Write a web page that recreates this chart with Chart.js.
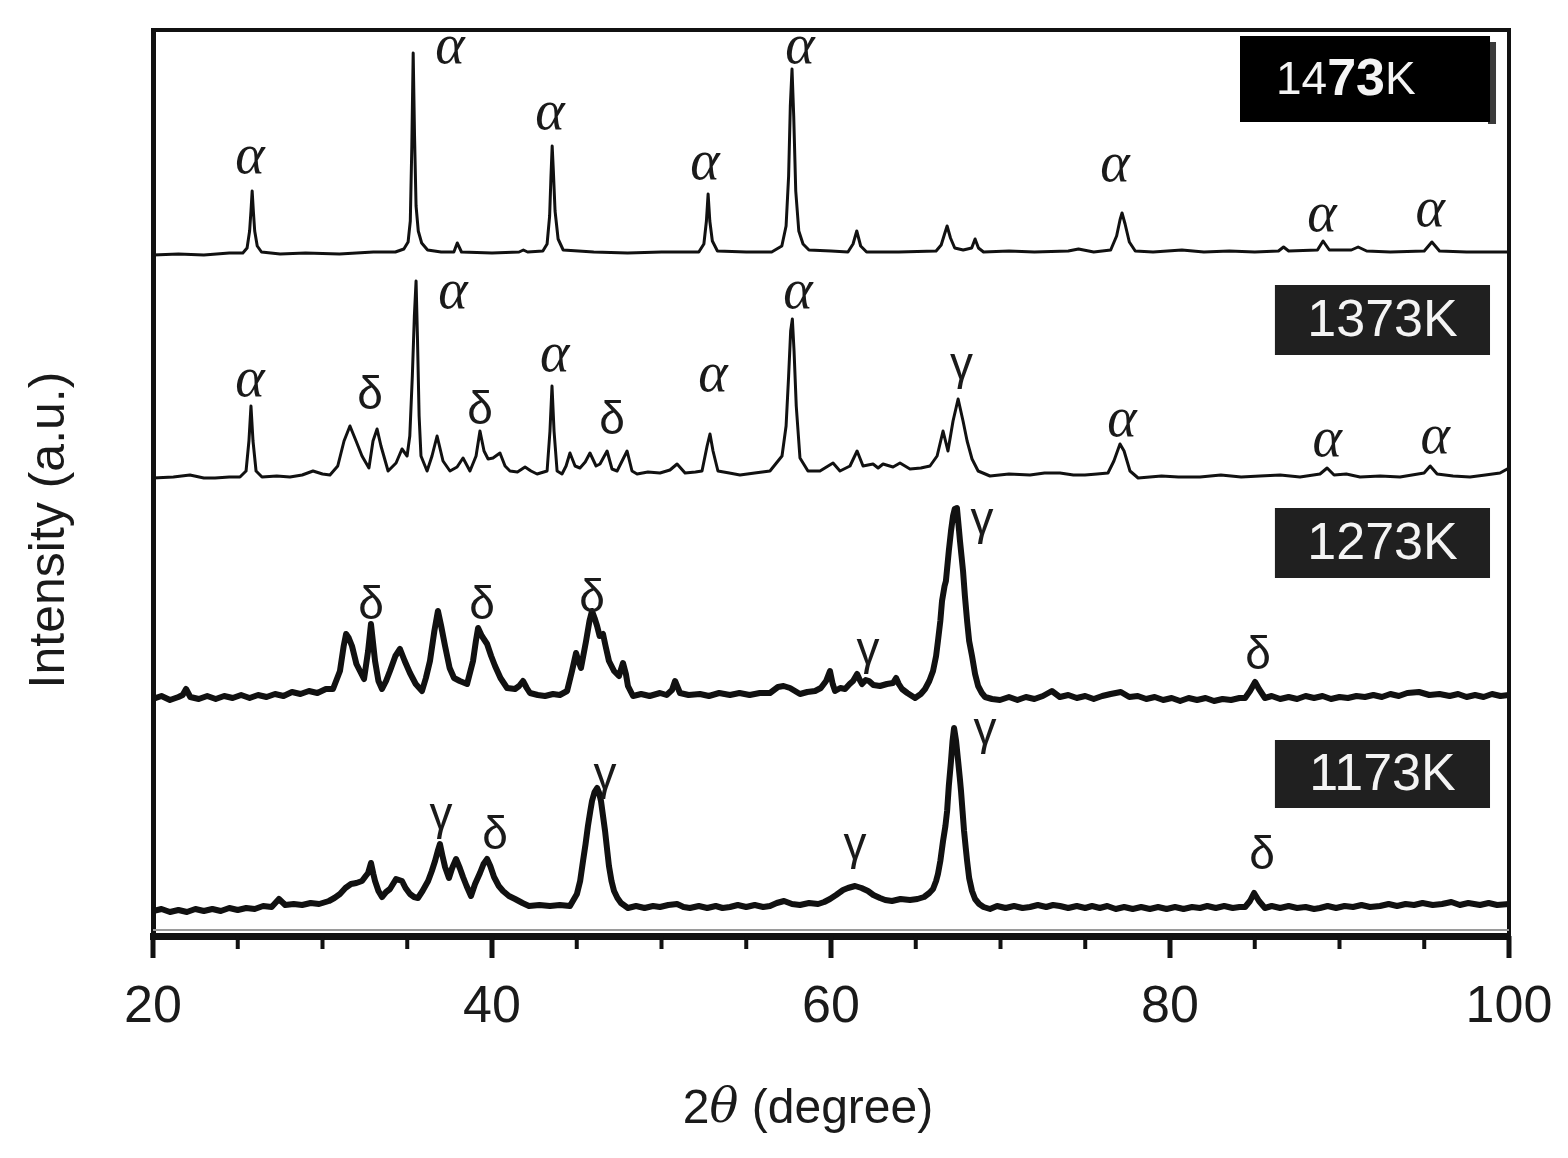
<!DOCTYPE html>
<html>
<head>
<meta charset="utf-8">
<script src="https://cdn.jsdelivr.net/npm/chart.js@4.4.1/dist/chart.umd.min.js"></script>
<style>
  html, body { margin: 0; padding: 0; background: #fff; }
</style>
</head>
<body>
<canvas id="xrd" width="1568" height="1158"></canvas>
<script>
// [2θ (degree), intensity (a.u., each pattern offset as plotted)]
const pattern1473 = [[20.0,681],[21.5,682],[23.0,681],[24.5,683],[25.3,683],[25.55,688],[25.7,705],[25.78,725],[25.85,745],[25.92,725],
  [26.0,705],[26.15,690],[26.4,684],[27.5,682],[29.0,683],[31.0,682],[33.0,684],[34.3,684],[34.8,687],[35.05,694],
  [35.18,715],[35.27,790],[35.35,883],[35.43,800],[35.52,730],[35.65,705],[35.85,693],[36.2,686],[37.0,684],[37.75,684],
  [37.95,693],[38.2,684],[40.0,683],[41.6,684],[41.85,686],[42.1,684],[43.0,685],[43.25,692],[43.4,720],[43.48,760],
  [43.55,790],[43.62,765],[43.72,725],[43.9,697],[44.2,686],[46.0,684],[48.0,683],[50.0,684],[52.2,684],[52.5,692],
  [52.65,715],[52.75,742],[52.85,715],[53.0,695],[53.3,685],[55.0,684],[56.5,684],[57.1,690],[57.35,710],[57.5,760],
  [57.6,830],[57.7,867],[57.8,820],[57.92,745],[58.1,705],[58.35,692],[58.7,686],[60.0,685],[61.0,684],[61.3,692],
  [61.52,705],[61.75,690],[62.1,684],[64.0,684],[66.2,685],[66.5,691],[66.7,702],[66.85,710],[67.05,698],[67.3,688],
  [67.8,686],[68.3,688],[68.5,697],[68.7,688],[69.0,684],[70.5,685],[72.0,684],[74.0,685],[74.6,687],[75.5,684],
  [76.5,686],[76.85,700],[77.05,716],[77.17,723],[77.35,712],[77.6,694],[77.95,685],[79.0,684],[80.7,686],[82.0,684],
  [83.5,685],[85.0,684],[86.4,685],[86.7,689],[87.0,685],[88.7,686],[89.03,695],[89.4,686],[90.7,686],[91.1,689],
  [91.6,685],[93.0,684],[95.0,685],[95.45,694],[95.9,685],[97.5,684],[100.0,684]];

const pattern1373 = [[20.0,458],[21.2,459],[22.18,461],[23.0,458],[23.66,458],[24.5,459],[25.13,459],[25.49,465],[25.66,495],[25.78,530],
  [25.9,495],[26.08,465],[26.43,459],[27.3,460],[28.08,459],[28.8,461],[29.44,465],[30.0,462],[30.44,461],[30.9,470],
  [31.27,495],[31.62,510],[31.98,495],[32.33,480],[32.74,468],[32.98,495],[33.22,507],[33.45,490],[33.87,465],[34.34,473],
  [34.69,487],[34.99,480],[35.15,500],[35.3,560],[35.42,620],[35.52,655],[35.6,600],[35.7,520],[35.81,480],[36.17,465],
  [36.46,480],[36.76,500],[37.11,475],[37.52,465],[37.94,469],[38.29,478],[38.7,465],[39.06,480],[39.29,505],[39.53,485],
  [39.77,477],[40.06,478],[40.47,483],[40.77,470],[41.06,465],[41.5,464],[41.95,469],[42.3,465],[42.66,462],[43.25,465],
  [43.42,505],[43.54,550],[43.66,505],[43.84,465],[44.13,462],[44.37,470],[44.6,483],[44.9,470],[45.19,468],[45.5,474],
  [45.78,483],[46.14,470],[46.37,472],[46.79,485],[47.08,467],[47.38,465],[47.97,485],[48.26,465],[48.56,462],[49.2,464],
  [49.91,463],[50.5,466],[50.92,472],[51.39,463],[52.0,464],[52.39,465],[52.69,490],[52.86,502],[53.04,485],[53.33,465],
  [54.0,463],[54.63,461],[55.5,463],[56.4,465],[57.11,480],[57.35,510],[57.5,560],[57.62,605],[57.72,617],[57.82,585],
  [57.95,530],[58.17,478],[58.64,465],[59.35,465],[60.12,473],[60.53,465],[61.12,470],[61.54,485],[61.89,470],[62.48,472],
  [62.78,468],[63.07,472],[63.66,469],[64.07,473],[64.66,467],[65.3,468],[65.84,470],[66.26,480],[66.61,505],[66.9,485],
  [67.2,515],[67.5,537],[67.79,515],[68.03,495],[68.32,477],[68.68,465],[69.38,460],[70.5,462],[71.74,461],[72.6,463],
  [73.51,463],[74.3,461],[74.98,461],[75.7,462],[76.34,463],[76.69,475],[77.05,492],[77.29,485],[77.64,465],[78.12,458],
  [79.5,460],[80.5,459],[81.77,459],[83.0,461],[84.2,459],[85.31,460],[86.5,461],[87.67,459],[88.85,462],[89.27,468],
  [89.68,461],[90.4,462],[91.21,459],[92.4,460],[93.57,459],[94.99,463],[95.35,470],[95.76,462],[96.7,460],[97.7,459],
  [98.6,461],[99.47,463],[100.0,468]];

const pattern1273 = [[20.0,237],[20.5,240],[21.0,236],[21.5,239],[21.75,241],[21.95,247],[22.2,239],[22.7,237],[23.2,240],[23.7,237],
  [24.2,240],[24.7,238],[25.2,241],[25.7,238],[26.2,241],[26.7,239],[27.2,242],[27.7,240],[28.2,244],[28.7,242],
  [29.2,245],[29.7,243],[30.2,247],[30.62,247],[31.03,265],[31.25,290],[31.39,302],[31.55,298],[31.74,290],[32.0,272],
  [32.21,265],[32.45,257],[32.69,285],[32.86,312],[33.1,275],[33.3,255],[33.51,247],[33.75,255],[33.98,265],[34.3,280],
  [34.57,287],[34.85,275],[35.16,263],[35.5,252],[35.87,245],[36.1,258],[36.34,275],[36.6,305],[36.81,325],[37.0,310],
  [37.23,290],[37.5,268],[37.76,258],[38.1,255],[38.53,252],[38.88,275],[39.05,295],[39.18,308],[39.4,300],[39.71,292],
  [39.95,280],[40.18,270],[40.5,258],[40.89,248],[41.36,247],[41.6,250],[41.83,255],[42.05,248],[42.24,243],[42.7,241],
  [43.13,240],[43.6,242],[44.0,241],[44.43,245],[44.72,265],[44.96,283],[45.1,275],[45.25,268],[45.55,295],[45.75,315],
  [45.9,325],[46.05,318],[46.2,310],[46.35,300],[46.55,302],[46.7,290],[46.9,275],[47.2,265],[47.49,260],[47.73,273],
  [47.9,262],[48.02,250],[48.32,240],[48.8,242],[49.3,240],[49.91,243],[50.3,241],[50.62,246],[50.8,255],[51.09,243],
  [51.6,241],[52.27,242],[52.8,240],[53.4,243],[54.04,241],[54.6,243],[55.2,241],[55.8,243],[56.4,243],[56.87,249],
  [57.2,250],[57.58,248],[58.17,242],[58.6,244],[59.06,245],[59.4,248],[59.71,255],[59.94,265],[60.1,252],[60.24,245],
  [60.55,248],[60.83,247],[61.1,252],[61.3,255],[61.54,262],[61.7,256],[61.83,252],[62.05,256],[62.24,255],[62.5,251],
  [62.89,250],[63.3,252],[63.66,253],[63.84,258],[64.0,252],[64.19,247],[64.5,243],[64.96,238],[65.3,242],[65.55,247],
  [65.8,255],[66.02,265],[66.2,280],[66.31,295],[66.45,315],[66.55,335],[66.7,350],[66.78,355],[66.95,385],[67.08,405],
  [67.2,420],[67.3,427],[67.43,428],[67.53,410],[67.61,395],[67.7,380],[67.79,365],[67.9,340],[68.03,315],[68.15,295],
  [68.32,280],[68.5,262],[68.68,250],[68.9,243],[69.09,239],[69.5,237],[69.97,236],[70.5,239],[71.0,236],[71.5,239],
  [72.0,237],[72.5,240],[73.03,245],[73.5,239],[74.0,241],[74.5,238],[75.0,240],[75.5,237],[76.0,240],[76.5,242],
  [77.1,244],[77.6,239],[78.1,240],[78.6,237],[79.1,239],[79.6,236],[80.1,238],[80.6,235],[81.1,238],[81.6,236],
  [82.1,238],[82.6,235],[83.1,237],[83.6,236],[84.1,238],[84.43,238],[84.72,245],[85.02,254],[85.25,247],[85.6,238],
  [86.0,240],[86.5,237],[87.0,239],[87.5,237],[88.0,240],[88.5,238],[89.0,240],[89.5,237],[90.0,239],[90.5,238],
  [91.0,240],[91.5,239],[92.0,241],[92.5,239],[93.0,242],[93.5,240],[94.0,243],[94.69,244],[95.3,241],[95.9,242],
  [96.5,240],[97.0,242],[97.5,239],[98.0,241],[98.5,239],[99.0,242],[99.5,240],[100.0,241]];

const pattern1173 = [[20.0,25],[20.5,27],[21.0,24],[21.5,26],[22.0,24],[22.5,27],[23.0,25],[23.5,27],[24.0,25],[24.5,28],
  [25.0,26],[25.5,28],[26.0,27],[26.5,30],[27.0,29],[27.43,37],[27.8,31],[28.3,32],[28.8,31],[29.3,33],
  [29.8,32],[30.38,35],[30.7,38],[31.03,42],[31.35,48],[31.68,52],[32.0,53],[32.33,55],[32.55,60],[32.69,63],
  [32.86,73],[33.0,62],[33.1,55],[33.3,45],[33.51,39],[33.75,44],[33.98,47],[34.34,57],[34.69,55],[34.9,48],
  [35.16,42],[35.4,39],[35.63,38],[35.9,45],[36.23,55],[36.45,65],[36.64,75],[36.8,85],[36.93,92],[37.08,80],
  [37.23,69],[37.46,58],[37.65,68],[37.88,77],[38.1,68],[38.29,59],[38.5,50],[38.76,40],[39.0,52],[39.29,63],
  [39.5,72],[39.71,77],[39.9,70],[40.12,59],[40.4,50],[40.65,45],[41.0,40],[41.36,37],[41.8,33],[42.18,30],
  [42.8,31],[43.42,30],[44.0,31],[44.6,30],[45.01,42],[45.2,55],[45.37,75],[45.52,92],[45.66,110],[45.8,125],
  [45.9,135],[46.05,144],[46.2,148],[46.32,143],[46.43,135],[46.55,120],[46.67,105],[46.8,85],[46.9,70],[47.05,55],
  [47.2,45],[47.4,38],[47.61,33],[48.02,28],[48.5,30],[49.0,28],[49.5,30],[49.91,29],[50.4,31],[50.92,32],
  [51.3,29],[51.68,28],[52.2,30],[52.7,28],[53.2,30],[53.6,28],[54.04,29],[54.5,31],[55.0,29],[55.5,31],
  [56.0,29],[56.4,30],[56.8,33],[57.23,35],[57.7,32],[58.17,31],[58.7,33],[59.24,32],[59.6,34],[59.94,37],
  [60.3,41],[60.71,46],[61.0,48],[61.42,50],[61.8,48],[62.18,45],[62.5,41],[62.89,38],[63.2,36],[63.6,35],
  [64.1,37],[64.66,36],[65.1,37],[65.49,39],[65.8,43],[66.02,47],[66.2,55],[66.31,62],[66.45,75],[66.61,95],
  [66.75,110],[66.85,125],[66.95,150],[67.08,175],[67.17,195],[67.26,208],[67.38,195],[67.5,175],[67.6,158],[67.67,145],
  [67.76,125],[67.85,105],[67.95,88],[68.03,75],[68.15,58],[68.32,45],[68.5,37],[68.74,32],[69.0,29],[69.38,27],
  [69.8,30],[70.3,28],[70.8,30],[71.3,28],[71.74,29],[72.2,31],[72.7,29],[73.1,31],[73.51,30],[74.0,28],
  [74.5,30],[75.0,28],[75.4,30],[75.86,28],[76.3,30],[76.8,27],[77.3,29],[77.8,27],[78.3,29],[78.81,27],
  [79.3,29],[79.8,27],[80.3,29],[80.8,27],[81.3,29],[81.77,28],[82.2,30],[82.7,28],[83.2,30],[83.7,28],
  [84.1,29],[84.43,29],[84.72,35],[84.96,43],[85.25,35],[85.6,28],[86.0,30],[86.5,28],[87.0,30],[87.5,28],
  [88.0,29],[88.5,27],[88.85,28],[89.3,30],[89.8,28],[90.3,30],[90.8,29],[91.3,31],[91.8,29],[92.39,30],
  [92.9,32],[93.4,30],[93.9,32],[94.4,31],[94.9,33],[95.5,31],[96.05,32],[96.6,34],[97.1,31],[97.6,33],
  [98.29,31],[98.8,33],[99.3,31],[100.0,32]];

// phase marks: [2θ, intensity, phase]
const tags1473 = [[25.72, 778, 'α'], [37.52, 888, 'α'], [43.42, 822, 'α'], [52.57, 772, 'α'], [58.17, 888, 'α'], [76.75, 770, 'α'], [88.97, 720, 'α'], [95.35, 725, 'α']];
const tags1373 = [[25.72, 555, 'α'], [32.8, 540, 'δ'], [37.7, 643, 'α'], [39.29, 525, 'δ'], [43.7, 580, 'α'], [47.08, 515, 'δ'], [53.04, 560, 'α'], [58.05, 643, 'α'], [67.7, 570, 'γ'], [77.17, 515, 'α'], [89.27, 495, 'α'], [95.64, 498, 'α']];
const tags1273 = [[32.86, 330, 'δ'], [39.41, 330, 'δ'], [45.9, 337, 'δ'], [62.18, 285, 'γ'], [68.91, 415, 'γ'], [85.19, 280, 'δ']];
const tags1173 = [[36.99, 120, 'γ'], [40.18, 100, 'δ'], [46.67, 160, 'γ'], [61.42, 90, 'γ'], [69.09, 205, 'γ'], [85.43, 80, 'δ']];

const sampleNames = ['1473K', '1373K', '1273K', '1173K'];
const X_TICKS = [20, 40, 60, 80, 100];
const MINOR_STEP = 5;

const INK = '#111';
const SANS = '"Liberation Sans", Arial, sans-serif';

const SERIES = [
    { pts: pattern1473, tags: tags1473, width: 3 },
    { pts: pattern1373, tags: tags1373, width: 3 },
    { pts: pattern1273, tags: tags1273, width: 6 },
    { pts: pattern1173, tags: tags1173, width: 6 },
];

// label boxes in data units: [2θ left, 2θ right, top, bottom]
const BOX_SPAN = [
    [84.13, 98.88, 900, 814],
    [86.19, 98.88, 651, 581],
    [86.19, 98.88, 428, 358],
    [86.19, 98.88, 196, 128],
];

// draws text pieces one after another, centred as a whole on cx
function drawRun(ctx, parts, cx, cy) {
    let total = 0;
    parts.forEach(([txt, f]) => { ctx.font = f; total += ctx.measureText(txt).width; });
    let px = cx - total / 2;
    ctx.textAlign = 'left';
    parts.forEach(([txt, f]) => {
        ctx.font = f;
        ctx.fillText(txt, px, cy);
        px += ctx.measureText(txt).width;
    });
    ctx.textAlign = 'center';
}

const xrdDecor = {
    id: 'xrdDecor',
    afterDatasetsDraw(chart) {
        const { ctx, chartArea: a, scales: { x, y } } = chart;
        ctx.save();

        // frame top + right
        ctx.strokeStyle = INK;
        ctx.lineWidth = 4;
        ctx.beginPath();
        ctx.moveTo(a.left, a.top);
        ctx.lineTo(a.right, a.top);
        ctx.lineTo(a.right, a.bottom);
        ctx.stroke();

        // thin grey line just above the axis
        ctx.strokeStyle = '#9a9a9a';
        ctx.lineWidth = 2;
        ctx.beginPath();
        ctx.moveTo(a.left, a.bottom - 6);
        ctx.lineTo(a.right, a.bottom - 6);
        ctx.stroke();

        // tick marks, majors longer
        ctx.strokeStyle = INK;
        for (let v = x.min; v <= x.max; v += MINOR_STEP) {
            const px = x.getPixelForValue(v);
            const major = X_TICKS.includes(v);
            ctx.lineWidth = major ? 5 : 4;
            ctx.beginPath();
            ctx.moveTo(px, a.bottom);
            ctx.lineTo(px, a.bottom + (major ? 22 : 13));
            ctx.stroke();
        }

        ctx.fillStyle = '#1a1a1a';
        ctx.textBaseline = 'middle';

        // x title with italic theta, a little left of centre like the original
        drawRun(ctx, [
            ['2', '48px ' + SANS],
            ['θ', 'italic 48px "DejaVu Serif", serif'],
            [' (degree)', '48px ' + SANS],
        ], 808, 1110);

        // y title, sits a bit below the middle in the original
        ctx.save();
        ctx.translate(50, 530);
        ctx.rotate(-Math.PI / 2);
        ctx.font = '50px ' + SANS;
        ctx.textAlign = 'center';
        ctx.fillText('Intensity (a.u.)', 0, 0);
        ctx.restore();

        // phase marks
        ctx.textAlign = 'center';
        SERIES.forEach(s => {
            s.tags.forEach(([t, v, tag]) => {
                ctx.font = tag === 'α'
                    ? 'italic 56px "Liberation Serif", serif'
                    : '46px ' + SANS;
                ctx.fillText(tag, x.getPixelForValue(t), y.getPixelForValue(v));
            });
        });

        // sample boxes
        BOX_SPAN.forEach(([l, r, t, b], i) => {
            const x0 = x.getPixelForValue(l), x1 = x.getPixelForValue(r);
            const y0 = y.getPixelForValue(t), y1 = y.getPixelForValue(b);
            if (i === 0) {
                ctx.fillStyle = '#3a3a3a';
                ctx.fillRect(x1 - 2, y0 + 6, 8, y1 - y0 - 4);
                ctx.fillStyle = '#000';
            } else {
                ctx.fillStyle = '#202020';
            }
            ctx.fillRect(x0, y0, x1 - x0, y1 - y0);

            ctx.fillStyle = '#f4f4f4';
            const cy = (y0 + y1) / 2 + 2;
            if (i === 0) {
                // first label: "73" set bigger and bolder
                const parts = [['14', '46px ' + SANS], ['73', 'bold 52px ' + SANS], ['K', '46px ' + SANS]];
                ctx.textAlign = 'left';
                let cx = x0 + 36;
                parts.forEach(([txt, f]) => {
                    ctx.font = f;
                    ctx.fillText(txt, cx, cy);
                    cx += ctx.measureText(txt).width;
                });
                ctx.textAlign = 'center';
            } else {
                ctx.font = '52px ' + SANS;
                ctx.fillText(sampleNames[i], (x0 + x1) / 2, cy);
            }
        });

        ctx.restore();
    },
};

new Chart(document.getElementById('xrd'), {
    type: 'line',
    data: {
        datasets: SERIES.map((s, i) => ({
            label: sampleNames[i],
            data: s.pts.map(([t, v]) => ({ x: t, y: v })),
            borderColor: INK,
            borderWidth: s.width,
            pointRadius: 0,
            tension: 0,
            fill: false,
            borderJoinStyle: 'round',
            borderCapStyle: 'round',
        })),
    },
    options: {
        responsive: false,
        animation: false,
        devicePixelRatio: 1,
        layout: { padding: { top: 30, right: 59, left: 0, bottom: 0 } },
        plugins: { legend: { display: false }, tooltip: { enabled: false } },
        scales: {
            x: {
                type: 'linear',
                min: 20,
                max: 100,
                afterBuildTicks: s => { s.ticks = X_TICKS.map(v => ({ value: v })); },
                afterFit: s => {
                    s.height = 222;
                    s.paddingLeft = 0;
                    s.paddingRight = 0;
                },
                grid: { display: false, drawTicks: false },
                border: { display: true, color: INK, width: 7 },
                ticks: {
                    color: '#1a1a1a',
                    font: { family: SANS, size: 52 },
                    padding: 40,
                    maxRotation: 0,
                    autoSkip: false,
                },
            },
            y: {
                min: 0,
                max: 906,
                afterFit: s => { s.width = 153; },
                grid: { display: false, drawTicks: false },
                border: { display: true, color: INK, width: 5 },
                ticks: { display: false },
            },
        },
    },
    plugins: [xrdDecor],
});
</script>
</body>
</html>
